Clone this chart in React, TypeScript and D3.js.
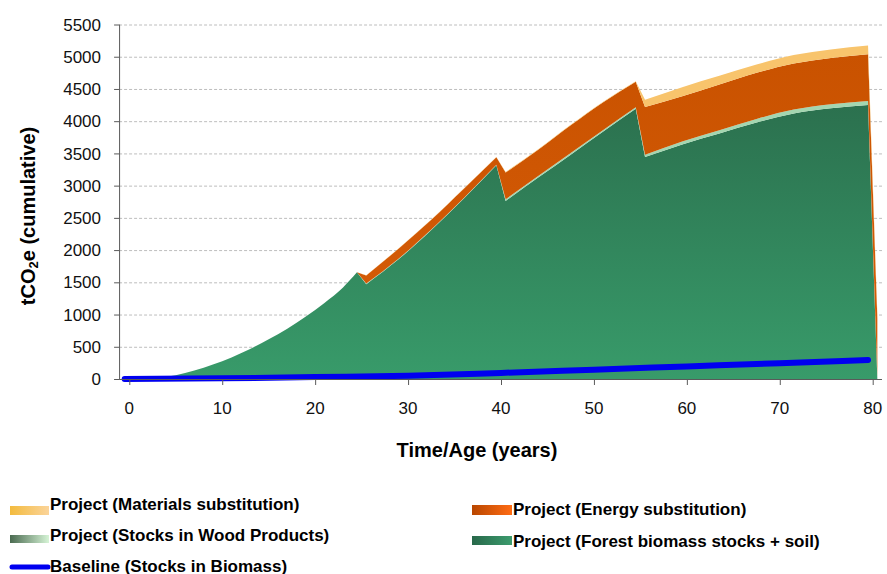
import React from 'react';
import * as d3 from 'd3';

// x positions (years) of the readings
const years = [-0.5, 1, 3, 5, 7, 9, 11, 13, 15, 17, 19, 21, 23, 24.5, 25.5, 29, 32.5, 36, 39.5, 40.5, 44, 47.5, 51, 54.5, 55.5, 59.5, 63.5, 67.5, 71.5, 75.5, 79.5, 80.5];
const forestBiomass = [0, 2, 18, 60, 130, 225, 335, 465, 615, 780, 970, 1180, 1420, 1655, 1470, 1860, 2310, 2800, 3315, 2763, 3125, 3480, 3840, 4193, 3444, 3640, 3810, 3980, 4120, 4200, 4250, 0];
const woodProducts = [0, 0, 0, 0, 0, 0, 0, 0, 0, 0, 0, 0, 0, 0, 10, 10, 10, 10, 10, 25, 25, 25, 25, 25, 35, 45, 50, 55, 60, 62, 65, 40];
const energySubst = [0, 0, 0, 0, 0, 0, 0, 0, 0, 0, 0, 0, 0, 0, 126, 155, 150, 140, 115, 416, 406, 431, 430, 395, 740, 703, 710, 715, 715, 720, 725, 900];
const materialsSubst = [0, 0, 0, 0, 0, 0, 0, 0, 0, 0, 0, 0, 0, 0, 5, 5, 5, 5, 5, 8, 8, 8, 8, 8, 114, 140, 135, 130, 130, 132, 135, 80];
// harvests happen between these readings and the next one
const harvestYears = [24.5, 39.5, 54.5, 79.5];

const baselineYears = [-0.5, 10, 20, 30, 40, 50, 60, 70, 79.5];
const baselineStocks = [0, 10, 30, 50, 95, 145, 195, 245, 295];

const yTickValues = [0, 500, 1000, 1500, 2000, 2500, 3000, 3500, 4000, 4500, 5000, 5500];
const xTickValues = [0, 10, 20, 30, 40, 50, 60, 70, 80];

const FONT = '"Liberation Sans", Arial, Helvetica, sans-serif';

// curve: smooth (monotone) between harvests, straight at harvest drops
function makeSegmentedCurve(breakXs: number[]) {
  const isBreak = (xa: number, xb: number) => {
    const m = Math.min(xa, xb);
    return breakXs.some((b) => Math.abs(b - m) < 0.01);
  };
  function Curve(this: any, context: any) {
    this._context = context;
  }
  Curve.prototype = {
    areaStart() { this._line = 0; },
    areaEnd() { this._line = NaN; },
    lineStart() { this._pts = []; },
    point(x: number, y: number) { this._pts.push([+x, +y]); },
    lineEnd() {
      const p: number[][] = this._pts;
      const n = p.length;
      const c = this._context;
      if (n) {
        if (this._line) c.lineTo(p[0][0], p[0][1]);
        else c.moveTo(p[0][0], p[0][1]);
        // split into runs
        const runs: number[][] = [];
        let start = 0;
        for (let i = 1; i < n; i++) {
          if (isBreak(p[i - 1][0], p[i][0])) {
            runs.push([start, i - 1]);
            runs.push([-(i - 1) - 1, i]); // break segment marker
            start = i;
          }
        }
        runs.push([start, n - 1]);
        for (const [a, b] of runs) {
          if (a < 0) { c.lineTo(p[b][0], p[b][1]); continue; }
          if (b <= a) continue;
          if (b - a === 1) { c.lineTo(p[b][0], p[b][1]); continue; }
          // monotone tangents
          const m = b - a + 1;
          const h: number[] = [], s: number[] = [];
          for (let k = 0; k < m - 1; k++) {
            h[k] = p[a + k + 1][0] - p[a + k][0];
            s[k] = (p[a + k + 1][1] - p[a + k][1]) / h[k];
          }
          const t: number[] = new Array(m);
          for (let k = 1; k < m - 1; k++) {
            const s0 = s[k - 1], s1 = s[k];
            const pp = (s0 * h[k] + s1 * h[k - 1]) / (h[k - 1] + h[k]);
            t[k] = (Math.sign(s0) + Math.sign(s1)) * Math.min(Math.abs(s0), Math.abs(s1), 0.5 * Math.abs(pp)) || 0;
          }
          t[0] = (3 * s[0] - t[1]) / 2;
          t[m - 1] = (3 * s[m - 2] - t[m - 2]) / 2;
          for (let k = 0; k < m - 1; k++) {
            const x0 = p[a + k][0], y0 = p[a + k][1];
            const x1 = p[a + k + 1][0], y1 = p[a + k + 1][1];
            const dx = (x1 - x0) / 3;
            c.bezierCurveTo(x0 + dx, y0 + dx * t[k], x1 - dx, y1 - dx * t[k + 1], x1, y1);
          }
        }
      }
      if (this._line || (this._line !== 0 && n === 1)) c.closePath();
      this._line = 1 - this._line;
    },
  };
  return (context: any) => new (Curve as any)(context);
}

export default function App() {
  const W = 887, H = 574;
  const x = d3.scaleLinear().domain([0, 80]).range([129.3, 872.7]);
  const y = d3.scaleLinear().domain([0, 5500]).range([379, 24.5]);

  const rows = years.map((yr, i) => ({
    year: yr,
    forest: forestBiomass[i],
    wood: woodProducts[i],
    energy: energySubst[i],
    materials: materialsSubst[i],
  }));
  const keys = ['forest', 'wood', 'energy', 'materials'];
  const stacked = d3.stack<any>().keys(keys)(rows);
  const curve = makeSegmentedCurve(harvestYears.map((h) => x(h)));
  const area = d3
    .area<any>()
    .x((d) => x(d.data.year))
    .y0((d) => y(d[0]))
    .y1((d) => y(d[1]))
    .curve(curve as any);
  const fills: Record<string, string> = {
    forest: 'url(#gForest)',
    wood: '#a3d6b0',
    energy: 'url(#gEnergy)',
    materials: '#f8c46c',
  };

  const baseLine = d3
    .line<number>()
    .x((_, i) => x(baselineYears[i]))
    .y((d) => y(d))
    .curve(d3.curveMonotoneX);

  const axisLeft = x(-1.1);
  const axisRight = x(81);
  const axisColor = '#5a5a5a';

  return (
    <svg width={W} height={H} style={{ position: 'absolute', left: 0, top: 0, background: '#fff' }} fontFamily={FONT}>
      <defs>
        <linearGradient id="gForest" gradientUnits="userSpaceOnUse" x1="0" y1={y(4300)} x2="0" y2={y(0)}>
          <stop offset="0" stopColor="#2b704e" />
          <stop offset="1" stopColor="#389b6a" />
        </linearGradient>
        <linearGradient id="gEnergy" gradientUnits="userSpaceOnUse" x1="0" y1={y(5100)} x2="0" y2={y(1500)}>
          <stop offset="0" stopColor="#c95200" />
          <stop offset="1" stopColor="#d35a06" />
        </linearGradient>
        <linearGradient id="sMat" x1="0" y1="0" x2="1" y2="0">
          <stop offset="0" stopColor="#f3bb3e" />
          <stop offset="1" stopColor="#fbd49a" />
        </linearGradient>
        <linearGradient id="sWood" x1="0" y1="0" x2="1" y2="0">
          <stop offset="0" stopColor="#4a6a50" />
          <stop offset="1" stopColor="#d6f4d6" />
        </linearGradient>
        <linearGradient id="sEnergy" x1="0" y1="0" x2="1" y2="0">
          <stop offset="0" stopColor="#b84600" />
          <stop offset="1" stopColor="#ff6c14" />
        </linearGradient>
        <linearGradient id="sForest" x1="0" y1="0" x2="1" y2="0">
          <stop offset="0" stopColor="#28684a" />
          <stop offset="1" stopColor="#3c9c6e" />
        </linearGradient>
      </defs>

      {/* grid */}
      {yTickValues.filter((v) => v > 0).map((v) => (
        <line key={'g' + v} x1={axisLeft} x2={axisRight} y1={y(v) + 0.5} y2={y(v) + 0.5}
          stroke="#bdbdbd" strokeWidth={1} strokeDasharray="3,2" />
      ))}

      {/* stacked areas */}
      {stacked.map((s) => (
        <path key={s.key} d={area(s) || ''} fill={fills[s.key]} />
      ))}

      {/* baseline */}
      <path d={baseLine(baselineStocks) || ''} fill="none" stroke="#0000f0" strokeWidth={6} strokeLinecap="round" />

      {/* axes */}
      <line x1={axisLeft + 0.5} x2={axisLeft + 0.5} y1={y(5500)} y2={y(0)} stroke={axisColor} strokeWidth={1} />
      <line x1={axisLeft} x2={axisRight} y1={y(0) + 0.5} y2={y(0) + 0.5} stroke={axisColor} strokeWidth={1} />
      {yTickValues.map((v) => (
        <g key={'yt' + v}>
          <line x1={axisLeft - 5} x2={axisLeft} y1={y(v) + 0.5} y2={y(v) + 0.5} stroke={axisColor} />
          <text x={101} y={y(v)} dy="0.36em" textAnchor="end" fontSize={17} fill="#111">{v}</text>
        </g>
      ))}
      {xTickValues.map((v) => (
        <g key={'xt' + v}>
          <line x1={x(v) + 0.5} x2={x(v) + 0.5} y1={y(0)} y2={y(0) + 6} stroke={axisColor} />
          <text x={x(v)} y={414} textAnchor="middle" fontSize={17} fill="#111">{v}</text>
        </g>
      ))}

      {/* axis titles */}
      <text x={477} y={457} textAnchor="middle" fontSize={20} fontWeight="bold" fill="#000">Time/Age (years)</text>
      <text transform="translate(35,216) rotate(-90)" textAnchor="middle" fontSize={20} fontWeight="bold" fill="#000">
        tCO<tspan fontSize={13} dy={3}>2</tspan><tspan dy={-3}>e (cumulative)</tspan>
      </text>

      {/* legend */}
      <g fontSize={17} fontWeight="bold" fill="#000">
        <rect x={10} y={506} width={39} height={9} fill="url(#sMat)" />
        <text x={50} y={510}>Project (Materials substitution)</text>
        <rect x={10} y={535} width={39} height={8} fill="url(#sWood)" />
        <text x={50} y={541}>Project (Stocks in Wood Products)</text>
        <line x1={12} x2={48} y1={567} y2={567} stroke="#0000f0" strokeWidth={5} strokeLinecap="round" />
        <text x={50} y={572}>Baseline (Stocks in Biomass)</text>

        <rect x={472} y={505} width={40} height={10} fill="url(#sEnergy)" />
        <text x={513} y={515}>Project (Energy substitution)</text>
        <rect x={472} y={536} width={40} height={9} fill="url(#sForest)" />
        <text x={513} y={547}>Project (Forest biomass stocks + soil)</text>
      </g>
    </svg>
  );
}
